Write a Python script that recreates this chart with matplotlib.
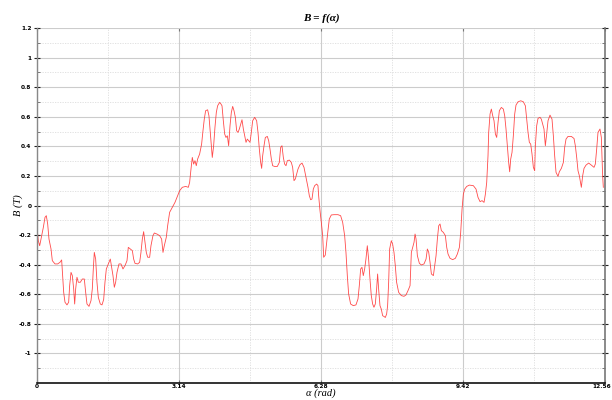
import matplotlib
matplotlib.use("Agg")
import matplotlib.pyplot as plt
from matplotlib.ticker import FixedLocator
from matplotlib.transforms import ScaledTranslation

alpha = [0.000, 0.029, 0.059, 0.088, 0.140, 0.177, 0.206, 0.236, 0.265, 0.310, 0.339, 0.398, 0.457, 0.508, 0.545,
         0.567, 0.590, 0.619, 0.663, 0.700, 0.722, 0.752, 0.781, 0.811, 0.833, 0.855, 0.884, 0.914, 0.958, 1.002,
         1.046, 1.076, 1.105, 1.150, 1.194, 1.223, 1.245, 1.267, 1.297, 1.326, 1.356, 1.400, 1.437, 1.474, 1.503,
         1.533, 1.577, 1.621, 1.651, 1.680, 1.710, 1.739, 1.769, 1.813, 1.857, 1.901, 1.945, 1.990, 2.019, 2.063,
         2.108, 2.137, 2.167, 2.226, 2.270, 2.299, 2.329, 2.358, 2.388, 2.417, 2.447, 2.491, 2.520, 2.564, 2.594,
         2.653, 2.712, 2.756, 2.786, 2.815, 2.859, 2.889, 2.933, 2.992, 3.051, 3.110, 3.154, 3.213, 3.287, 3.346,
         3.375, 3.405, 3.434, 3.464, 3.493, 3.522, 3.552, 3.596, 3.640, 3.670, 3.699, 3.729, 3.773, 3.802, 3.832,
         3.861, 3.876, 3.906, 3.935, 3.965, 3.994, 4.038, 4.068,
         4.091, 4.120, 4.150, 4.179, 4.209, 4.238, 4.268, 4.297, 4.327, 4.356, 4.386, 4.415, 4.445, 4.474, 4.504,
         4.533, 4.563, 4.592, 4.622, 4.651, 4.681, 4.710, 4.739, 4.769, 4.813, 4.857, 4.887, 4.916, 4.946, 4.968,
         4.990, 5.020, 5.049, 5.093, 5.123, 5.152, 5.182, 5.211, 5.255, 5.314, 5.358, 5.388, 5.417, 5.447, 5.476,
         5.506, 5.535, 5.580, 5.624, 5.653, 5.683, 5.712, 5.742, 5.771, 5.815, 5.860, 5.904, 5.933, 5.963, 5.992,
         6.022, 6.051, 6.081, 6.110, 6.140, 6.184, 6.213, 6.228, 6.258, 6.287, 6.317, 6.339, 6.375, 6.405, 6.434,
         6.464, 6.508, 6.567, 6.655, 6.714, 6.759, 6.803, 6.832, 6.862, 6.891, 6.935, 6.994, 7.053, 7.098, 7.127,
         7.157, 7.186, 7.215, 7.245, 7.274, 7.304, 7.333, 7.363, 7.392, 7.422, 7.451, 7.481, 7.510, 7.532, 7.554,
         7.584, 7.613, 7.643, 7.672, 7.702, 7.731, 7.753, 7.776, 7.798, 7.835, 7.864, 7.894, 7.923, 7.952, 7.997,
         8.056, 8.115, 8.159, 8.203,
         8.249, 8.278, 8.308, 8.337, 8.360, 8.382, 8.411, 8.455, 8.500, 8.558, 8.603, 8.632, 8.662, 8.691, 8.721,
         8.765, 8.794, 8.824, 8.853, 8.883, 8.912, 8.942, 8.986, 9.030, 9.060, 9.089, 9.133, 9.192, 9.251, 9.295,
         9.340, 9.369, 9.399, 9.428, 9.458, 9.502, 9.561, 9.649, 9.708, 9.752, 9.797, 9.841, 9.885, 9.915, 9.944,
         9.973, 9.988, 10.018, 10.047, 10.077, 10.106, 10.136, 10.165, 10.195, 10.224, 10.268, 10.312, 10.342,
         10.371, 10.401, 10.430, 10.452, 10.475, 10.504, 10.533, 10.563, 10.592, 10.637, 10.696, 10.755, 10.799,
         10.828, 10.858, 10.887, 10.917, 10.946, 10.976, 11.005, 11.020, 11.049, 11.079, 11.123, 11.152, 11.182,
         11.211, 11.241, 11.270, 11.300, 11.344, 11.388, 11.418, 11.447, 11.477, 11.521, 11.550, 11.595, 11.639,
         11.668, 11.698, 11.742, 11.816, 11.875, 11.904, 11.934, 11.963, 11.993, 12.037, 12.066, 12.096, 12.140,
         12.199, 12.258, 12.317, 12.346, 12.376, 12.405, 12.449, 12.479, 12.494, 12.508, 12.523]

B = [-0.148, -0.238, -0.272, -0.227, -0.148, -0.080, -0.069, -0.125, -0.227, -0.294, -0.373, -0.395, -0.395, -0.384, -0.368,
     -0.474, -0.587, -0.654, -0.672, -0.654, -0.542, -0.452, -0.474, -0.564, -0.666, -0.564, -0.485, -0.519, -0.519, -0.497,
     -0.497, -0.587, -0.666, -0.682, -0.643, -0.564, -0.429, -0.317, -0.362, -0.519, -0.621, -0.666, -0.672, -0.636, -0.519,
     -0.429, -0.395, -0.362, -0.418, -0.474, -0.553, -0.519, -0.452, -0.395, -0.395, -0.429, -0.407, -0.373, -0.283, -0.294,
     -0.305, -0.362, -0.391, -0.395, -0.384, -0.317, -0.227, -0.177, -0.249, -0.317, -0.350, -0.350, -0.272, -0.204, -0.186,
     -0.193, -0.204, -0.227, -0.317, -0.272, -0.215, -0.137, -0.046, -0.013, 0.021, 0.066, 0.100, 0.123, 0.129, 0.123,
     0.156, 0.246, 0.325, 0.280, 0.303, 0.269, 0.314, 0.348, 0.415, 0.505, 0.584, 0.641, 0.647, 0.607, 0.494,
     0.382, 0.325, 0.404, 0.528, 0.629, 0.674, 0.697, 0.686,
     0.674, 0.573, 0.483, 0.460, 0.471, 0.404, 0.539, 0.629, 0.670, 0.641, 0.596, 0.505, 0.494, 0.517, 0.550,
     0.580, 0.517, 0.471, 0.427, 0.449, 0.438, 0.427, 0.494, 0.573, 0.596, 0.573, 0.494, 0.382, 0.291, 0.251,
     0.336, 0.404, 0.460, 0.467, 0.438, 0.382, 0.314, 0.269, 0.264, 0.264, 0.291, 0.393, 0.404, 0.325, 0.280,
     0.269, 0.303, 0.307, 0.291, 0.258, 0.168, 0.179, 0.213, 0.246, 0.276, 0.287, 0.258, 0.213, 0.168, 0.123,
     0.066, 0.039, 0.044, 0.111, 0.134, 0.145, 0.134, 0.066, -0.035, -0.114, -0.204, -0.350, -0.335, -0.249, -0.170,
     -0.091, -0.064, -0.062, -0.062, -0.069, -0.114, -0.204, -0.317, -0.474, -0.598, -0.666, -0.677, -0.672, -0.632, -0.542,
     -0.429, -0.418, -0.474, -0.429, -0.362, -0.272, -0.362, -0.497, -0.609, -0.666, -0.688, -0.666, -0.564, -0.463, -0.564,
     -0.677, -0.700, -0.745, -0.750, -0.757, -0.734, -0.677, -0.519, -0.294, -0.238, -0.261, -0.317, -0.407, -0.519, -0.587,
     -0.609, -0.614, -0.605, -0.576,
     -0.542, -0.317, -0.283, -0.249, -0.193, -0.227, -0.339, -0.391, -0.402, -0.395, -0.362, -0.294, -0.317, -0.384, -0.463,
     -0.474, -0.407, -0.339, -0.227, -0.137, -0.125, -0.170, -0.182, -0.204, -0.283, -0.328, -0.357, -0.366, -0.357, -0.328,
     -0.283, -0.182, -0.024, 0.077, 0.111, 0.129, 0.138, 0.134, 0.111, 0.055, 0.026, 0.033, 0.021, 0.077, 0.156,
     0.336, 0.494, 0.618, 0.652, 0.607, 0.573, 0.483, 0.460, 0.562, 0.641, 0.663, 0.652, 0.607,
     0.517, 0.404, 0.291, 0.228, 0.314, 0.359, 0.471, 0.618, 0.679, 0.701, 0.708, 0.701, 0.674,
     0.584, 0.494, 0.427, 0.415, 0.348, 0.258, 0.235, 0.404, 0.539, 0.589, 0.596, 0.584, 0.550,
     0.517, 0.404, 0.483, 0.573, 0.611, 0.584, 0.471, 0.336, 0.224, 0.197, 0.228, 0.251, 0.291,
     0.393, 0.449, 0.467, 0.467, 0.453, 0.404, 0.325, 0.235, 0.201, 0.123, 0.201, 0.251, 0.273,
     0.287, 0.273, 0.258, 0.280, 0.382, 0.494, 0.517, 0.460, 0.336, 0.201, 0.123]

x_ticks = [0, 3.14, 6.28, 9.42, 12.56]
x_tick_labels = ["0", "3.14", "6.28", "9.42", "12.56"]
y_ticks = [-1, -0.8, -0.6, -0.4, -0.2, 0, 0.2, 0.4, 0.6, 0.8, 1, 1.2]
y_tick_labels = ["-1", "-0.8", "-0.6", "-0.4", "-0.2", "0", "0.2", "0.4", "0.6", "0.8", "1", "1.2"]

fig = plt.figure(figsize=(6.12, 4.00), dpi=100)
ax = fig.add_axes([37/612, 17/400, (605-37)/612, (383-28)/400])

ax.plot(alpha, B, color="#ff2a2a", lw=0.6, alpha=0.85)

ax.set_xlim(0, 12.56)
ax.set_ylim(-1.2, 1.2)
ax.xaxis.set_major_locator(FixedLocator(x_ticks))
ax.set_xticklabels(x_tick_labels)
ax.xaxis.set_minor_locator(FixedLocator([1.57, 4.71, 7.85, 10.99]))
ax.yaxis.set_major_locator(FixedLocator(y_ticks))
ax.set_yticklabels(y_tick_labels)
ax.yaxis.set_minor_locator(FixedLocator([-1.1, -0.9, -0.7, -0.5, -0.3, -0.1, 0.1, 0.3, 0.5, 0.7, 0.9, 1.1]))

ax.grid(True, which="major", color="#cccccc", lw=0.8, ls="-")
ax.grid(True, which="minor", color="#dddddd", lw=0.6, ls=(0, (1.5, 1.5)))
ax.set_axisbelow(True)

for lab in ax.get_xticklabels() + ax.get_yticklabels():
    lab.set_fontsize(4.2)
    lab.set_fontweight("bold")

ax.tick_params(axis="y", which="major", direction="inout", length=4, width=0.8, color="#222222",
               right=True, pad=2)
ax.tick_params(axis="y", which="minor", direction="in", length=2.5, width=0.6, color="#666666", right=True)
ax.tick_params(axis="x", which="major", direction="in", length=2.5, width=0.8, color="#777777",
               top=True, pad=1)
ax.tick_params(axis="x", which="minor", length=0)

last = ax.get_xticklabels()[-1]
last.set_horizontalalignment("right")
last.set_transform(last.get_transform() + ScaledTranslation(6.5 / 100, 0, fig.dpi_scale_trans))

ax.spines["top"].set_visible(False)
ax.spines["left"].set_color("#888888")
ax.spines["left"].set_linewidth(1.0)
ax.spines["right"].set_color("#777777")
ax.spines["right"].set_linewidth(1.2)
ax.spines["bottom"].set_color("#111111")
ax.spines["bottom"].set_linewidth(1.2)

ax.set_title("B = f(α)", fontsize=8, fontweight="bold", style="italic",
             family="Liberation Serif", pad=5)
ax.set_xlabel("α (rad)", fontsize=7.5, style="italic", family="Liberation Serif", labelpad=-1)
ax.set_ylabel("B (T)", fontsize=7.5, style="italic", family="Liberation Serif")
ax.yaxis.set_label_coords(-0.025, 0.5)

fig.savefig("out.png", dpi=100)
